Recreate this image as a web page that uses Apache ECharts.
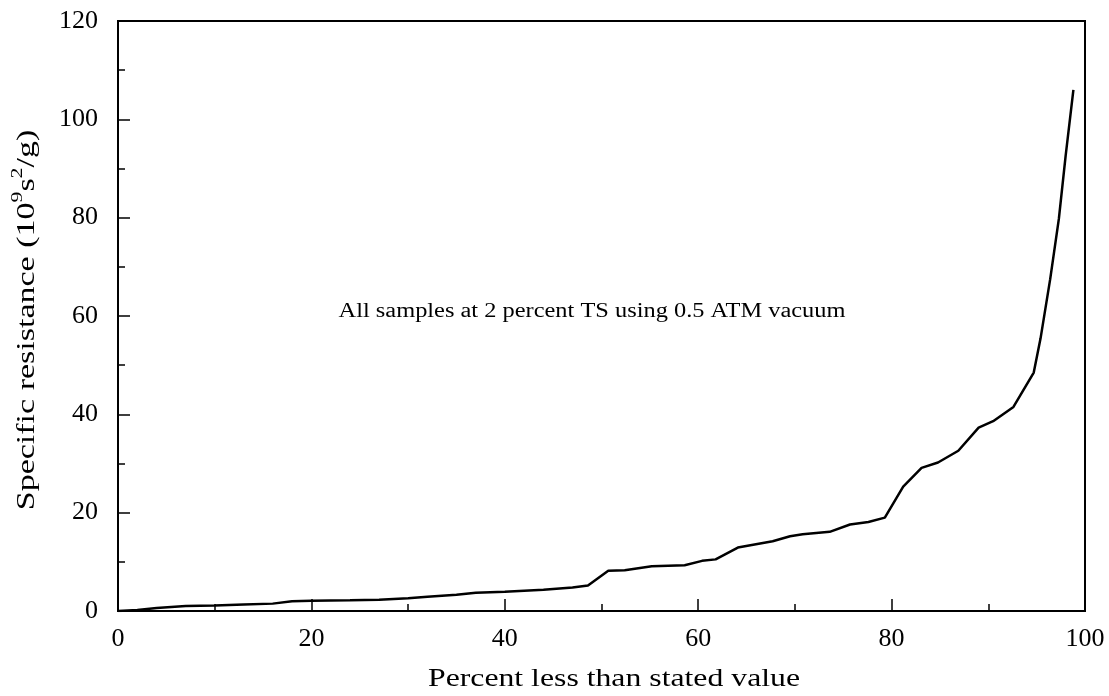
<!DOCTYPE html>
<html>
<head>
<meta charset="utf-8">
<script src="https://cdn.jsdelivr.net/npm/echarts@6/dist/echarts.min.js"></script>
<style>
  html, body { margin: 0; padding: 0; background: #fff; }
  #chart { width: 1109px; height: 696px; }
</style>
</head>
<body>
<div id="chart"></div>
<script>
// Cumulative distribution of specific resistance
const percentLess = [0, 2, 4, 7, 10, 13, 16, 18, 20, 24, 27, 30, 32, 35, 37, 40, 44, 47, 48.6,
  50.7, 52.4, 55.2, 58.6, 60.4, 61.8, 64.1, 67.7, 69.5, 70.8, 73.6, 75.7, 77.6, 79.3,
  81.2, 83.1, 84.8, 86.9, 89.0, 90.5, 92.6, 94.7, 95.4, 96.4, 97.3, 98.0, 98.8];
const resistance = [0, 0.2, 0.6, 1.0, 1.1, 1.3, 1.5, 2.0, 2.1, 2.2, 2.3, 2.6, 2.9, 3.3, 3.7, 3.9, 4.3, 4.8, 5.2,
  8.2, 8.3, 9.1, 9.3, 10.2, 10.5, 12.9, 14.2, 15.2, 15.6, 16.1, 17.6, 18.1, 19.0,
  25.3, 29.1, 30.2, 32.6, 37.3, 38.6, 41.5, 48.5, 55.4, 67.5, 79.8, 92.6, 106];

const xTicks = [0, 20, 40, 60, 80, 100];
const yTicks = [0, 20, 40, 60, 80, 100, 120];

const xTitle = 'Percent less than stated value';
const noteText = 'All samples at 2 percent TS using 0.5 ATM vacuum';

const serif = '"Liberation Serif", "Times New Roman", serif';

const chart = echarts.init(document.getElementById('chart'), null, { renderer: 'canvas' });

const axisCommon = {
  axisLine: { show: true, onZero: false, lineStyle: { color: '#000', width: 2 } },
  axisTick: { show: true, inside: true, length: 12, lineStyle: { color: '#000', width: 1.5 } },
  minorTick: { show: true, splitNumber: 2, length: 7, lineStyle: { color: '#000', width: 1.5 } },
  splitLine: { show: false },
  axisLabel: { color: '#000', fontFamily: serif, fontSize: 26 }
};

chart.setOption({
  backgroundColor: '#fff',
  animation: false,
  grid: {
    left: 118, right: 24, top: 21, bottom: 85,
    show: true, borderColor: '#000', borderWidth: 2, backgroundColor: 'transparent'
  },
  xAxis: Object.assign({}, axisCommon, {
    type: 'value', min: xTicks[0], max: xTicks[xTicks.length - 1], interval: 20,
    axisLabel: Object.assign({}, axisCommon.axisLabel, { margin: 15 })
  }),
  yAxis: Object.assign({}, axisCommon, {
    type: 'value', min: yTicks[0], max: yTicks[yTicks.length - 1], interval: 20,
    axisLabel: Object.assign({}, axisCommon.axisLabel, { margin: 20 })
  }),
  series: [{
    type: 'line',
    data: percentLess.map((x, i) => [x, resistance[i]]),
    showSymbol: false,
    smooth: false,
    lineStyle: { color: '#000', width: 2.5 }
  }],
  graphic: [
    {
      type: 'text', x: 614, y: 679, scaleX: 1.27,
      style: {
        text: xTitle, fill: '#000',
        font: '25px ' + serif, textAlign: 'center', textVerticalAlign: 'middle'
      }
    },
    {
      type: 'text', x: 27, y: 320, scaleX: 1.36, rotation: Math.PI / 2,
      style: {
        text: '{a|Specific resistance (10}{s|9}{a|s}{s|2}{a|/g)}',
        fill: '#000', textAlign: 'center', textVerticalAlign: 'middle',
        rich: {
          a: { fontFamily: serif, fontSize: 25, lineHeight: 34, fill: '#000' },
          s: { fontFamily: serif, fontSize: 16, lineHeight: 34, verticalAlign: 'top', fill: '#000' }
        }
      }
    },
    {
      type: 'text', x: 592, y: 312, scaleX: 1.22,
      style: {
        text: noteText, fill: '#000',
        font: '20px ' + serif, textAlign: 'center', textVerticalAlign: 'middle'
      }
    }
  ]
});
</script>
</body>
</html>
